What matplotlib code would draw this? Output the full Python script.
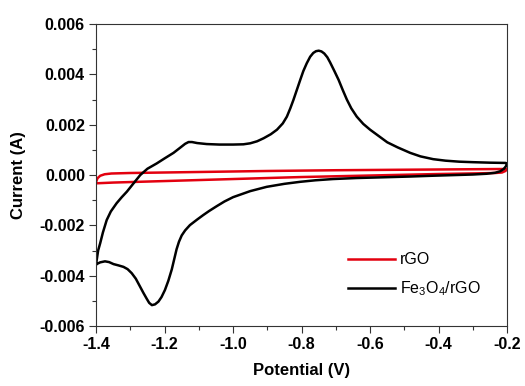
import matplotlib
matplotlib.use("Agg")
import matplotlib.pyplot as plt
from matplotlib.ticker import MultipleLocator

plt.rcParams['font.family'] = ['Liberation Sans', 'DejaVu Sans']
plt.rcParams['mathtext.fontset'] = 'custom'
plt.rcParams['mathtext.rm'] = 'Liberation Sans'
plt.rcParams['mathtext.it'] = 'Liberation Sans'

# Fe3O4/rGO: forward (anodic) scan, -1.4 -> -0.2 V
fe_fwd_x = [-1.400, -1.394, -1.388, -1.380, -1.369, -1.357, -1.340, -1.325, -1.310, -1.290,
            -1.271, -1.250, -1.223, -1.200, -1.174, -1.155, -1.140, -1.130, -1.120, -1.105,
            -1.077, -1.040, -1.000, -0.970, -0.950, -0.930, -0.911, -0.890, -0.872, -0.855,
            -0.843, -0.833, -0.824, -0.814, -0.804, -0.795, -0.785, -0.775, -0.766, -0.758,
            -0.750, -0.742, -0.734, -0.725, -0.717, -0.705, -0.692, -0.680, -0.668, -0.655,
            -0.639, -0.620, -0.600, -0.575, -0.550, -0.520, -0.483, -0.453, -0.416, -0.380,
            -0.340, -0.300, -0.250, -0.205, -0.200]
fe_fwd_y = [-0.00355, -0.00300, -0.00271, -0.00228, -0.00179, -0.00145, -0.00112, -0.00088, -0.00066, -0.00032,
            0.00000, 0.00025, 0.00046, 0.00066, 0.00088, 0.00108, 0.00124, 0.00131, 0.00131, 0.00127,
            0.00123, 0.00121, 0.00121, 0.00122, 0.00126, 0.00134, 0.00146, 0.00162, 0.00180, 0.00205,
            0.00232, 0.00265, 0.00298, 0.00338, 0.00378, 0.00413, 0.00444, 0.00470, 0.00485, 0.00492,
            0.00494, 0.00491, 0.00483, 0.00468, 0.00448, 0.00415, 0.00378, 0.00338, 0.00300, 0.00265,
            0.00232, 0.00203, 0.00180, 0.00155, 0.00130, 0.00110, 0.00088, 0.00074, 0.00063, 0.00057,
            0.00053, 0.00051, 0.00049, 0.00048, 0.00046]
# Fe3O4/rGO: reverse (cathodic) scan, -0.2 -> -1.4 V
fe_rev_x = [-0.200, -0.204, -0.210, -0.220, -0.235, -0.260, -0.300, -0.420, -0.483, -0.560,
            -0.640, -0.708, -0.760, -0.804, -0.850, -0.902, -0.950, -1.000, -1.025, -1.048,
            -1.070, -1.087, -1.105, -1.126, -1.140, -1.150, -1.158, -1.165, -1.172, -1.179,
            -1.189, -1.199, -1.209, -1.218, -1.228, -1.237, -1.245, -1.252, -1.262, -1.271,
            -1.284, -1.296, -1.308, -1.320, -1.335, -1.349, -1.362, -1.374, -1.388, -1.400]
fe_rev_y = [0.00044, 0.00034, 0.00024, 0.00015, 0.00009, 0.00005, 0.00002, -0.00003, -0.00006, -0.00009,
            -0.00012, -0.00016, -0.00021, -0.00027, -0.00035, -0.00047, -0.00064, -0.00088, -0.00105, -0.00124,
            -0.00143, -0.00159, -0.00177, -0.00199, -0.00220, -0.00240, -0.00265, -0.00295, -0.00335, -0.00375,
            -0.00420, -0.00457, -0.00485, -0.00503, -0.00514, -0.00517, -0.00508, -0.00492, -0.00468, -0.00445,
            -0.00412, -0.00390, -0.00374, -0.00365, -0.00359, -0.00354, -0.00346, -0.00343, -0.00347, -0.00355]

# rGO
rgo_fwd_x = [-1.400, -1.396, -1.388, -1.375, -1.355, -1.300, -1.100, -0.900, -0.700, -0.500, -0.300, -0.200]
rgo_fwd_y = [-0.00028, -0.00013, -0.00003, 0.00003, 0.00006, 0.00008, 0.00012, 0.00016, 0.00019, 0.00021, 0.00023, 0.00024]
rgo_rev_x = [-0.200, -0.205, -0.215, -0.235, -0.270, -0.400, -0.600, -0.800, -1.000, -1.200, -1.350, -1.400]
rgo_rev_y = [0.00024, 0.00016, 0.00010, 0.00008, 0.00007, 0.00004, -0.00002, -0.00008, -0.00016, -0.00024, -0.00030, -0.00033]

fig = plt.figure(figsize=(5.25, 3.86), dpi=100)
ax = fig.add_axes([0.183, 0.1554, 0.783, 0.7824])

ax.plot(rgo_fwd_x + rgo_rev_x, rgo_fwd_y + rgo_rev_y, color='#e3000f', lw=1.8,
        solid_joinstyle='round', label='rGO')
ax.plot(fe_fwd_x + fe_rev_x, fe_fwd_y + fe_rev_y, color='black', lw=1.8,
        solid_joinstyle='round', label=r'Fe$_\mathregular{3}$O$_\mathregular{4}$/rGO')

ax.set_xlim(-1.4, -0.2)
ax.set_ylim(-0.006, 0.006)
ax.xaxis.set_major_locator(MultipleLocator(0.2))
ax.xaxis.set_minor_locator(MultipleLocator(0.1))
ax.yaxis.set_major_locator(MultipleLocator(0.002))
ax.yaxis.set_minor_locator(MultipleLocator(0.001))
ax.xaxis.set_major_formatter(plt.FuncFormatter(lambda v, p: f"{v:.1f}"))
ax.yaxis.set_major_formatter(plt.FuncFormatter(lambda v, p: f"{v:.3f}"))

ax.tick_params(which='both', direction='out', top=False, right=False, width=0.8, color='#333333')
ax.tick_params(which='major', length=5, labelsize=11.5, pad=3)
ax.tick_params(which='minor', length=3)
for lab in ax.get_xticklabels() + ax.get_yticklabels():
    lab.set_fontweight('bold')
for s in ax.spines.values():
    s.set_linewidth(0.8)
    s.set_color('#333333')

ax.set_xlabel('Potential (V)', fontsize=12, fontweight='bold', labelpad=8)
ax.set_ylabel('Current (A)', fontsize=12, fontweight='bold', labelpad=10)

leg = ax.legend(loc='lower right', frameon=False, fontsize=11.5, handlelength=2.9,
                handletextpad=0.35, borderaxespad=0.6, labelspacing=0.75,
                bbox_to_anchor=(0.975, 0.04))

fig.savefig('out.png', dpi=100)
